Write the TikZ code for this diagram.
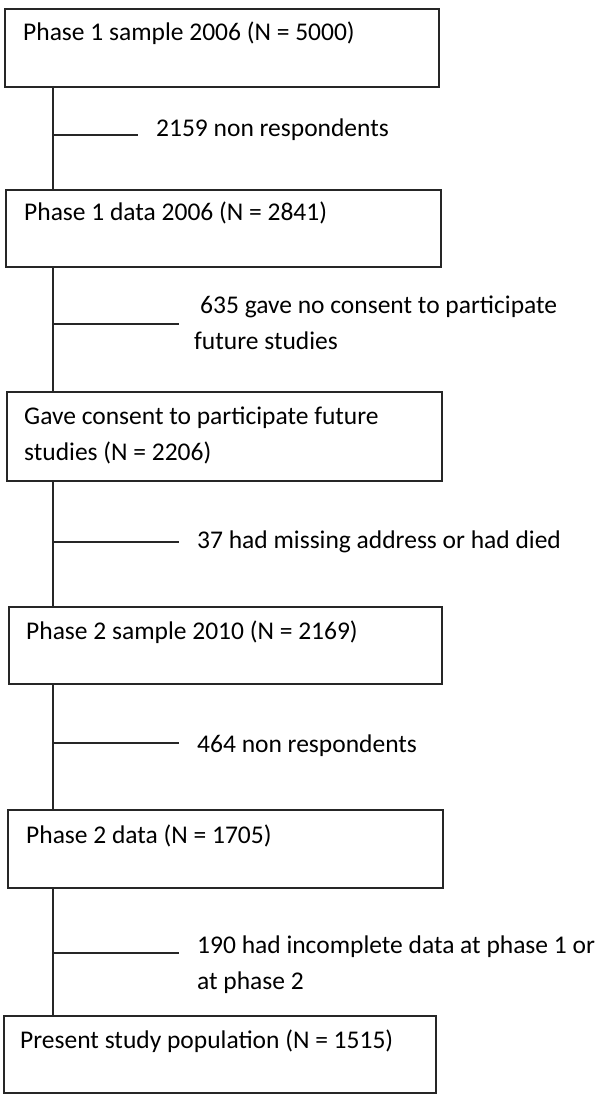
\documentclass[tikz,border=0pt]{standalone}
\usepackage{fontspec}
\setmainfont{Carlito}
\begin{document}
\begin{tikzpicture}[x=1pt,y=-1pt,
  box/.style={draw=black!85, line width=1.6pt, anchor=north west, inner sep=0pt},
  conn/.style={draw=black!85, line width=1.6pt},
  txt/.style={anchor=west, inner sep=0pt, font=\fontsize{25.5}{36}\selectfont, align=left}]
\useasboundingbox (0,0) rectangle (600,1099);
% boxes
\node[box, minimum width=434pt, minimum height=78pt] (b1) at (4,8) {};
\node[box, minimum width=435pt, minimum height=77pt] (b2) at (5,189) {};
\node[box, minimum width=435pt, minimum height=89pt] (b3) at (6,391) {};
\node[box, minimum width=433pt, minimum height=77pt] (b4) at (8,606) {};
\node[box, minimum width=435pt, minimum height=78pt] (b5) at (7,809) {};
\node[box, minimum width=432pt, minimum height=77pt] (b6) at (3,1015) {};
% box texts
\node[txt] (t1) at (23,33) {Phase 1 sample 2006 (N = 5000)};
\node[txt] (t2) at (24,213) {Phase 1 data 2006 (N = 2841)};
\node[txt] (t3) at (24,435) {Gave consent to participate future\\studies (N = 2206)};
\node[txt] (t4) at (26,632) {Phase 2 sample 2010 (N = 2169)};
\node[txt] (t5) at (26,836) {Phase 2 data (N = 1705)};
\node[txt] (t6) at (20,1041) {Present study population (N = 1515)};
% trunk coordinates
\coordinate (s1) at (53,86);  \coordinate (n2) at (53,189);
\coordinate (s2) at (53,266); \coordinate (n3) at (53,391);
\coordinate (s3) at (53,480); \coordinate (n4) at (53,606);
\coordinate (s4) at (53,683); \coordinate (n5) at (53,809);
\coordinate (s5) at (53,887); \coordinate (n6) at (53,1015);
\draw[conn] (s1) -- (n2);
\draw[conn] (s2) -- (n3);
\draw[conn] (s3) -- (n4);
\draw[conn] (s4) -- (n5);
\draw[conn] (s5) -- (n6);
% branches
\coordinate (j1) at (53,135); \coordinate (e1) at (138,135);
\coordinate (j2) at (53,324); \coordinate (e2) at (179,324);
\coordinate (j3) at (53,542); \coordinate (e3) at (179,542);
\coordinate (j4) at (53,743); \coordinate (e4) at (179,743);
\coordinate (j5) at (53,953); \coordinate (e5) at (179,953);
\draw[conn] (j1) -- (e1);
\draw[conn] (j2) -- (e2);
\draw[conn] (j3) -- (e3);
\draw[conn] (j4) -- (e4);
\draw[conn] (j5) -- (e5);
% branch texts
\node[txt] (x1) at (156,130) {2159 non respondents};
\node[txt] (x2) at (194,323) {\hspace{6pt}635 gave no consent to participate\\future studies};
\node[txt] (x3) at (197,542) {37 had missing address or had died};
\node[txt] (x4) at (197,746) {464 non respondents};
\node[txt] (x5) at (197,965) {190 had incomplete data at phase 1 or\\at phase 2};
\end{tikzpicture}
\end{document}
